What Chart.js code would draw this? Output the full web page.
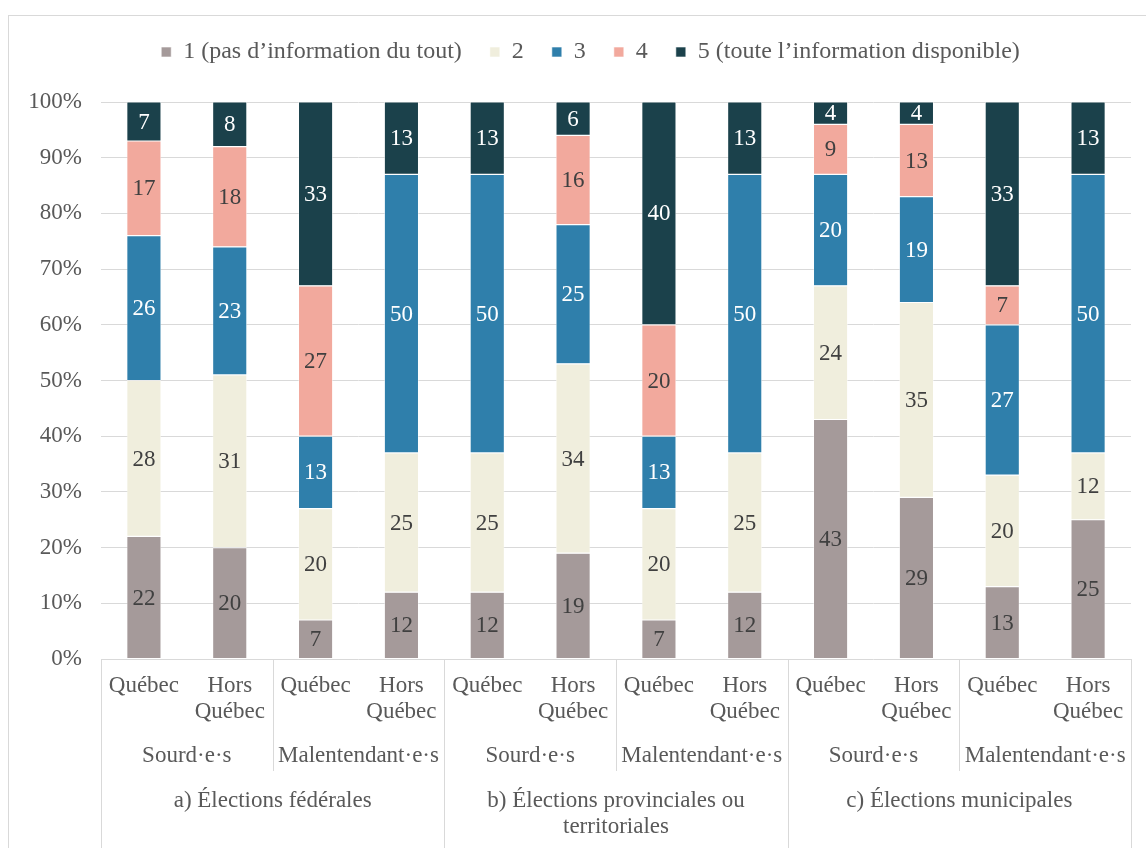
<!DOCTYPE html>
<html>
<head>
<meta charset="utf-8">
<script src="https://cdn.jsdelivr.net/npm/chart.js@4.4.1/dist/chart.umd.min.js"></script>
<style>
  html, body { margin: 0; padding: 0; background: #fff; overflow: hidden; }
  #cadre { position: absolute; left: 8px; top: 15px; width: 1200px; height: 900px; border: 1px solid #d9d9d9; }
  #zone { position: absolute; left: 0; top: 0; width: 1146px; height: 848px; }
</style>
</head>
<body>
<div id="cadre"></div>
<div id="zone"><canvas id="grafico"></canvas></div>
<script>
// categories (3 niveaux)
const categories = ['Québec', ['Hors', 'Québec'], 'Québec', ['Hors', 'Québec'],
                    'Québec', ['Hors', 'Québec'], 'Québec', ['Hors', 'Québec'],
                    'Québec', ['Hors', 'Québec'], 'Québec', ['Hors', 'Québec']];
const groupes = ['Sourd·e·s', 'Malentendant·e·s', 'Sourd·e·s', 'Malentendant·e·s', 'Sourd·e·s', 'Malentendant·e·s'];
const elections = ['a) Élections fédérales', ['b) Élections provinciales ou', 'territoriales'], 'c) Élections municipales'];

// séries (%)
const nomsSeries = ['1 (pas d’information du tout)', '2', '3', '4', '5 (toute l’information disponible)'];
const niveau1 = [22, 20, 7, 12, 12, 19, 7, 12, 43, 29, 13, 25];
const niveau2 = [28, 31, 20, 25, 25, 34, 20, 25, 24, 35, 20, 12];
const niveau3 = [26, 23, 13, 50, 50, 25, 13, 50, 20, 19, 27, 50];
const niveau4 = [17, 18, 27, 0, 0, 16, 20, 0, 9, 13, 7, 0];
const niveau5 = [7, 8, 33, 13, 13, 6, 40, 13, 4, 4, 33, 13];

const yTicks = [0, 10, 20, 30, 40, 50, 60, 70, 80, 90, 100];

const couleurs = ['#a59a9a', '#f0eedd', '#2f7fab', '#f2a99d', '#1b414b'];
const couleursTexte = ['#404040', '#404040', '#ffffff', '#404040', '#ffffff'];
const police = 'Liberation Serif, Times New Roman, serif';
const gris = '#595959';
const ligne = '#d9d9d9';

const valeurs = [niveau1, niveau2, niveau3, niveau4, niveau5];

// étiquettes des valeurs au centre des segments
const pluginEtiquettes = {
    id: 'etiquettes',
    afterDatasetsDraw(chart) {
        const ctx = chart.ctx;
        ctx.save();
        ctx.font = '23px ' + police;
        ctx.textAlign = 'center';
        ctx.textBaseline = 'middle';
        chart.data.datasets.forEach((ds, i) => {
            const meta = chart.getDatasetMeta(i);
            meta.data.forEach((bar, j) => {
                const v = ds.data[j];
                if (!v) return;
                ctx.fillStyle = couleursTexte[i];
                ctx.fillText(v, bar.x, (bar.y + bar.base) / 2 + 1);
            });
        });
        ctx.restore();
    }
};

// niveaux 2 et 3 de l'axe X + séparateurs
const pluginAxe = {
    id: 'axeMulti',
    afterDraw(chart) {
        const ctx = chart.ctx;
        const x = chart.scales.x;
        const area = chart.chartArea;
        const bas = chart.height;
        const demi = (x.getPixelForValue(1) - x.getPixelForValue(0)) / 2;
        const bord = (i) => x.getPixelForValue(i) - demi;

        ctx.save();
        ctx.strokeStyle = ligne;
        ctx.lineWidth = 1;
        // séparateurs
        for (let i = 0; i <= categories.length; i += 2) {
            const px = Math.round(bord(i)) + 0.5;
            const fin = (i % 4 === 0) ? bas : area.bottom + 112;
            ctx.beginPath();
            ctx.moveTo(px, area.bottom);
            ctx.lineTo(px, fin);
            ctx.stroke();
        }

        ctx.fillStyle = gris;
        ctx.font = '23px ' + police;
        ctx.textAlign = 'center';
        ctx.textBaseline = 'middle';
        groupes.forEach((g, k) => {
            const cx = (bord(k * 2) + bord(k * 2 + 2)) / 2;
            ctx.fillText(g, cx, area.bottom + 97);
        });
        elections.forEach((e, k) => {
            const cx = (bord(k * 4) + bord(k * 4 + 4)) / 2;
            const lignes = Array.isArray(e) ? e : [e];
            lignes.forEach((t, n) => ctx.fillText(t, cx, area.bottom + 142 + n * 26));
        });
        ctx.restore();
    }
};

// espace sous la légende, légende un peu décalée à droite
const pluginLegende = {
    id: 'espaceLegende',
    beforeInit(chart) {
        const fitOrig = chart.legend.fit;
        chart.legend.fit = function () {
            fitOrig.bind(chart.legend)();
            this.height += 28;
        };
    },
    afterLayout(chart) {
        chart.legend.left += 50;
    }
};

const ctx = document.getElementById('grafico').getContext('2d');
new Chart(ctx, {
    type: 'bar',
    data: {
        labels: categories,
        datasets: valeurs.map((d, i) => ({
            label: nomsSeries[i],
            data: d,
            backgroundColor: couleurs[i],
            borderColor: '#ffffff',
            borderWidth: 0.6,
            borderSkipped: false,
            barPercentage: 0.4,
            categoryPercentage: 1.0
        }))
    },
    options: {
        responsive: true,
        maintainAspectRatio: false,
        animation: false,
        layout: { padding: { top: 12, right: 15, left: 0, bottom: 0 } },
        plugins: {
            legend: {
                position: 'top',
                labels: {
                    boxWidth: 10,
                    boxHeight: 10,
                    padding: 28,
                    color: gris,
                    font: { family: police, size: 24 }
                }
            },
            tooltip: { enabled: false }
        },
        scales: {
            x: {
                stacked: true,
                grid: { display: false, drawTicks: false },
                border: { display: false },
                ticks: {
                    color: gris,
                    padding: 14,
                    maxRotation: 0,
                    autoSkip: false,
                    font: { family: police, size: 23, lineHeight: 1.13 }
                },
                afterFit(s) { s.height = 189; }
            },
            y: {
                stacked: true,
                min: 0,
                max: 100,
                afterBuildTicks(s) { s.ticks = yTicks.map(v => ({ value: v })); },
                grid: { color: ligne, drawTicks: false },
                border: { display: false },
                ticks: {
                    color: gris,
                    padding: 19,
                    font: { family: police, size: 23 },
                    callback: v => v + '%'
                },
                afterFit(s) { s.width = 101; }
            }
        }
    },
    plugins: [pluginEtiquettes, pluginAxe, pluginLegende]
});
</script>
</body>
</html>
